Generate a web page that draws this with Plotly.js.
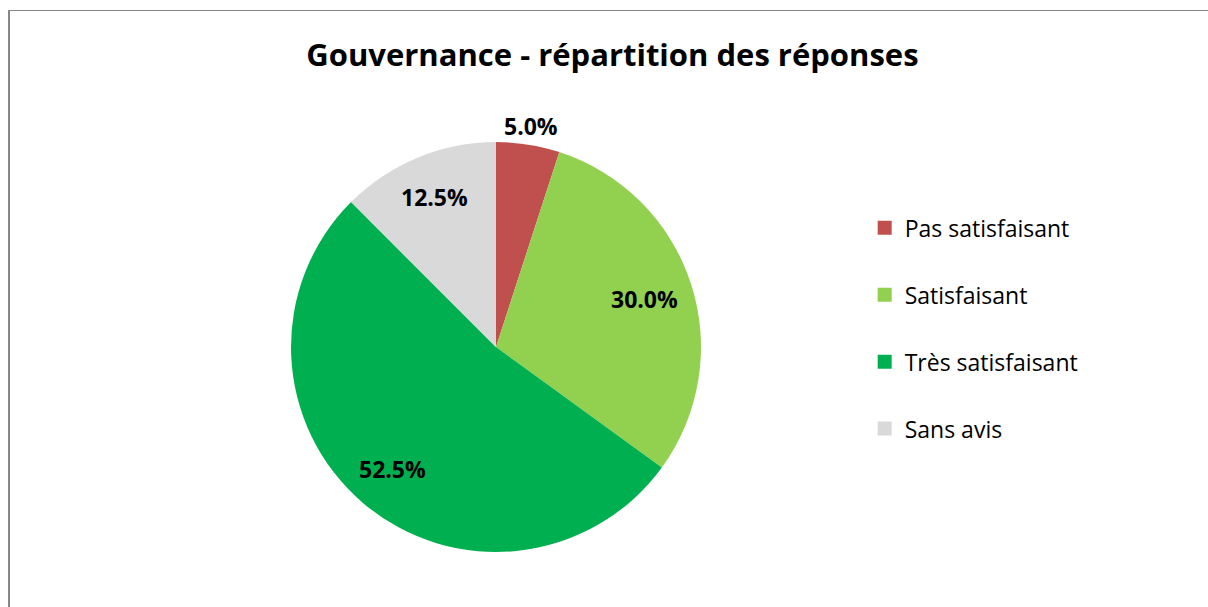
<!DOCTYPE html>
<html><head><meta charset="utf-8">
<script src="https://cdn.plot.ly/plotly-3.0.1.min.js"></script>
<style>
html,body{margin:0;padding:0;background:#fff;}
#wrap{position:relative;width:1208px;height:607px;overflow:hidden;}
#frame{position:absolute;left:8px;top:10px;width:1300px;height:700px;border-top:1px solid #878787;border-left:2px solid #878787;pointer-events:none;z-index:5;}
#chart{position:absolute;left:0;top:0;width:1208px;height:607px;}
</style></head>
<body><div id="wrap"><div id="chart"></div><div id="frame"></div></div>
<script>
const categories = ["Pas satisfaisant", "Satisfaisant", "Très satisfaisant", "Sans avis"];
const values = [5.0, 30.0, 52.5, 12.5];
const colors = ["#C0504D", "#92D050", "#00B050", "#D9D9D9"];
const labelRadius = [1.09, 0.76, 0.78, 0.79];
const titleText = "Gouvernance - répartition des réponses";

const FONT = "'Open Sans', 'Noto Sans', sans-serif";
const W = 1208, H = 607;
const pieDomain = {x: [0.2409, 0.5803], y: [0.0906, 0.766]};

const pie = {
  type: "pie",
  labels: categories,
  values: values,
  sort: false,
  direction: "clockwise",
  rotation: 0,
  marker: {colors: colors, line: {width: 0}},
  textinfo: "none",
  hoverinfo: "label+percent",
  showlegend: false,
  automargin: false,
  domain: pieDomain
};

// data labels placed at each slice's mid-angle, derived from the values
const total = values.reduce((a, b) => a + b, 0);
const cx = (pieDomain.x[0] + pieDomain.x[1]) / 2 * W;
const cy = (1 - (pieDomain.y[0] + pieDomain.y[1]) / 2) * H;
const R = Math.min((pieDomain.x[1] - pieDomain.x[0]) * W, (pieDomain.y[1] - pieDomain.y[0]) * H) / 2;
let cum = 0;
const annotations = values.map((v, i) => {
  const mid = (cum + v / 2) / total * 2 * Math.PI;
  cum += v;
  const px = cx + Math.sin(mid) * R * labelRadius[i];
  const py = cy - Math.cos(mid) * R * labelRadius[i];
  return {
    xref: "paper", yref: "paper", x: px / W, y: 1 - py / H,
    xanchor: "center", yanchor: "middle", showarrow: false,
    text: "<b>" + (v / total * 100).toFixed(1) + "%</b>",
    font: {family: FONT, size: 23, color: "#000"}
  };
});

const legendTraces = categories.map((c, i) => ({
  type: "scatter",
  mode: "markers",
  x: [null], y: [null],
  name: c,
  legendgroup: "g" + i,
  marker: {symbol: "square", size: 14, color: colors[i]},
  hoverinfo: "skip"
}));

const layout = {
  width: W, height: H,
  margin: {l: 0, r: 0, t: 0, b: 0},
  paper_bgcolor: "#fff", plot_bgcolor: "#fff",
  title: {text: "<b>" + titleText + "</b>", x: 0.507, xanchor: "center", y: 0.909, yanchor: "middle",
          font: {family: FONT, size: 31, color: "#000"}},
  xaxis: {visible: false, domain: [0.9, 0.91]},
  yaxis: {visible: false, domain: [0.9, 0.91]},
  showlegend: true,
  legend: {x: 0.7158, xanchor: "left", y: 0.66, yanchor: "top",
           font: {family: FONT, size: 23, color: "#000"},
           tracegroupgap: 34, itemclick: false, itemdoubleclick: false,
           bgcolor: "rgba(0,0,0,0)"},
  annotations: annotations
};

Plotly.newPlot("chart", [pie].concat(legendTraces), layout, {displayModeBar: false, staticPlot: true});
</script></body></html>
